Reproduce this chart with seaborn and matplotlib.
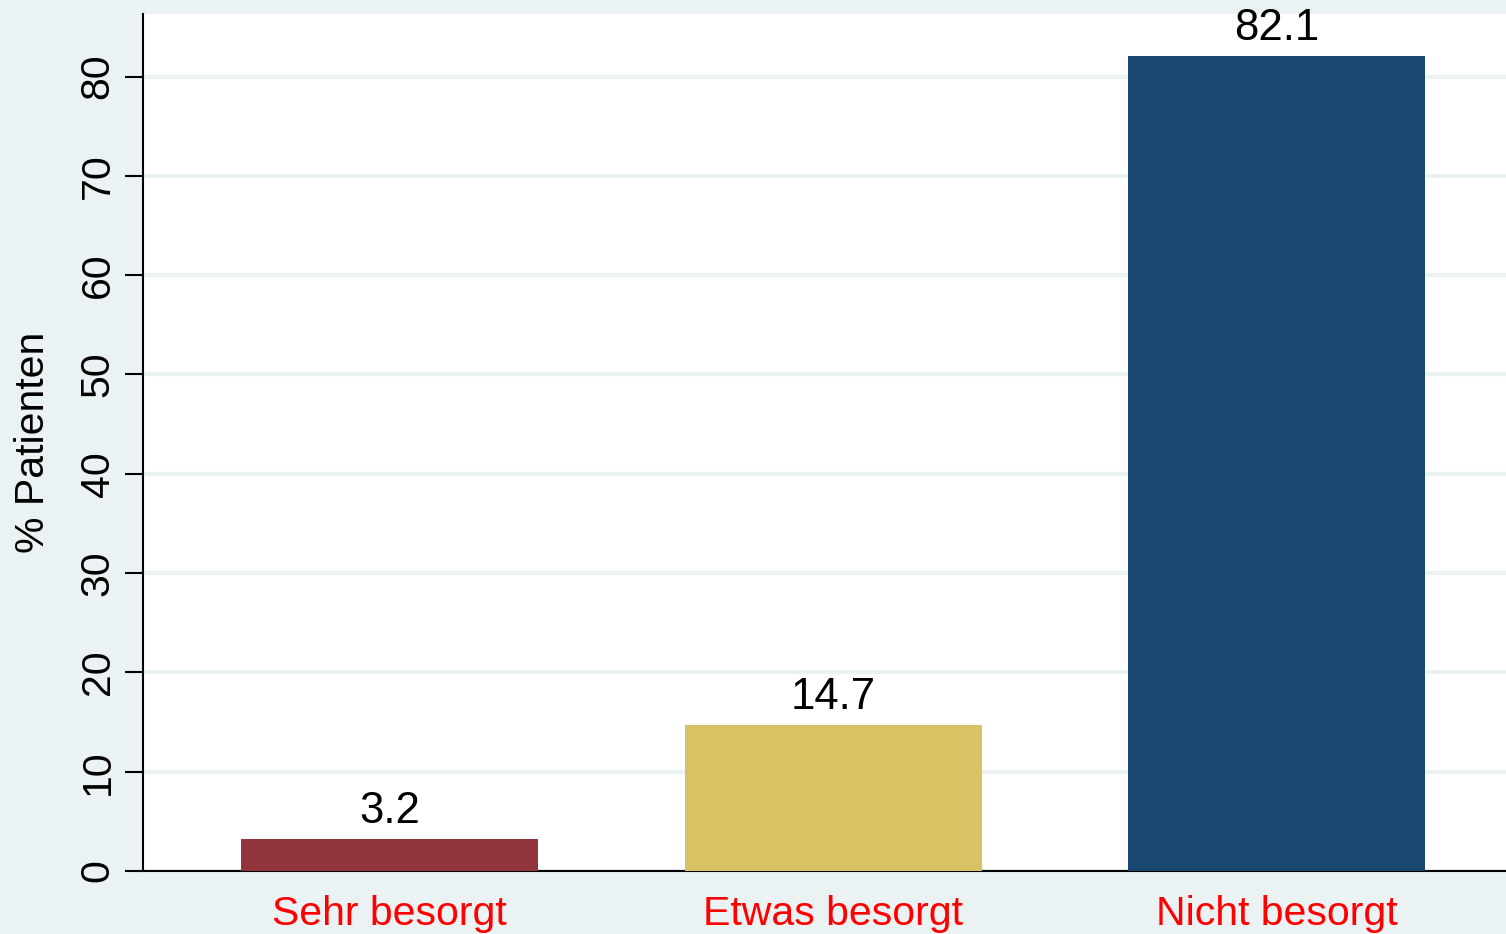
import seaborn as sns
import matplotlib.pyplot as plt
import pandas as pd

# data
categories = ['Sehr besorgt', 'Etwas besorgt', 'Nicht besorgt']
percent = [3.2, 14.7, 82.1]
bar_colors = ['#90353B', '#D9C264', '#1A476F']
y_ticks = [0, 10, 20, 30, 40, 50, 60, 70, 80]

df = pd.DataFrame({'category': categories, 'percent': percent})

sns.set_style('white')
plt.rcParams['font.family'] = ['Liberation Sans', 'DejaVu Sans']

bg = '#EAF2F3'
fig = plt.figure(figsize=(15.06, 9.34), dpi=100, facecolor=bg)
ax = fig.add_axes([143 / 1506, 63 / 934, 1363 / 1506, 857 / 934])
ax.set_facecolor('white')

sns.barplot(data=df, x='category', y='percent', hue='category',
            palette=bar_colors, width=0.67, legend=False, saturation=1,
            ax=ax, zorder=3)

for bar in ax.patches:
    bar.set_edgecolor('none')

for cont in ax.containers:
    ax.bar_label(cont, fmt='%.1f', padding=5, fontsize=31.5, color='black')

ax.set_xlim(-0.556, 2.517)
ax.set_ylim(0, 86.3)
ax.set_yticks(y_ticks)
ax.yaxis.grid(True, color=bg, linewidth=3, zorder=0)
ax.set_axisbelow(True)

ax.set_xlabel('')
ax.set_ylabel('% Patienten', fontsize=29.5, color='black')
ax.yaxis.set_label_coords(-0.0667, 0.5)

ax.tick_params(axis='y', length=13, width=1.5, color='black', labelsize=29.5,
               labelcolor='black', pad=6, left=True)
ax.tick_params(axis='x', length=0, labelsize=29.5, pad=17, labelcolor='#FF0000')
plt.setp(ax.get_yticklabels(), rotation=90, va='center')

for side in ['top', 'right']:
    ax.spines[side].set_visible(False)
for side in ['left', 'bottom']:
    ax.spines[side].set_color('black')
    ax.spines[side].set_linewidth(1.5)

plt.savefig('out.png', dpi=100, facecolor=bg)
plt.close()
